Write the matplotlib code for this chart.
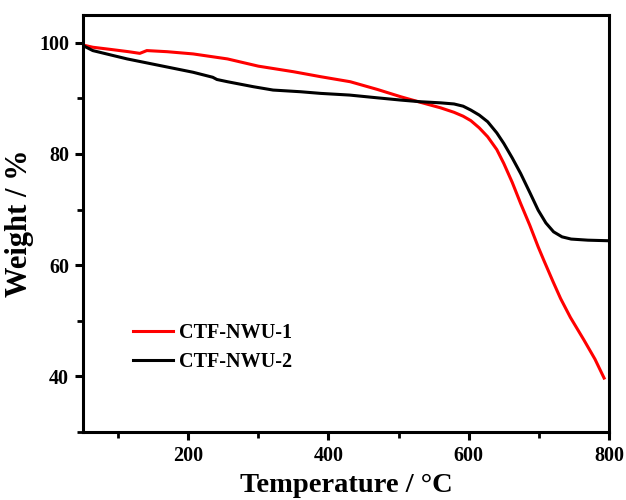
import matplotlib
matplotlib.use("Agg")
import matplotlib.pyplot as plt
from matplotlib.ticker import MultipleLocator

plt.rcParams['font.family'] = ['Liberation Serif', 'DejaVu Serif']
plt.rcParams['font.weight'] = 'bold'

temp1 = [50, 64, 90, 115, 131, 141, 170, 207, 256, 300, 350, 389, 431, 470,
         503, 531, 560, 579, 592, 603, 615, 627, 640, 650, 662, 674, 687, 699,
         707, 720, 731, 745, 764, 780, 793]
w1 = [99.6, 99.2, 98.8, 98.4, 98.1, 98.6, 98.4, 98.0, 97.1, 95.8, 94.8, 93.9,
      93.0, 91.6, 90.3, 89.3, 88.3, 87.5, 86.8, 86.0, 84.7, 83.1, 80.8, 78.3,
      74.9, 71.1, 67.2, 63.3, 60.9, 57.1, 54.0, 50.6, 46.6, 43.1, 39.7]

temp2 = [50, 64, 90, 113, 160, 207, 235, 241, 256, 293, 321, 360, 389, 430,
         470, 503, 531, 560, 579, 592, 603, 615, 627, 640, 650, 662, 674, 687,
         699, 710, 721, 733, 746, 770, 799]
w2 = [99.5, 98.6, 97.8, 97.1, 95.9, 94.7, 93.8, 93.4, 93.0, 92.1, 91.5, 91.2,
      90.9, 90.6, 90.1, 89.7, 89.4, 89.2, 89.0, 88.6, 87.9, 87.0, 85.8, 83.8,
      81.9, 79.3, 76.5, 73.1, 69.9, 67.6, 66.0, 65.1, 64.7, 64.5, 64.4]

labels = ['CTF-NWU-1', 'CTF-NWU-2']
colors = ['#ff0000', '#000000']

fig = plt.figure(figsize=(6.26, 5.0), dpi=100)
ax = fig.add_axes([83/626, 68/500, (609-83)/626, (432-15)/500])

ax.plot(temp1, w1, color=colors[0], lw=2.2, label=labels[0])
ax.plot(temp2, w2, color=colors[1], lw=2.2, label=labels[1])

ax.set_xlim(50, 800)
ax.set_ylim(30, 105)
ax.xaxis.set_major_locator(MultipleLocator(200))
ax.xaxis.set_minor_locator(MultipleLocator(100))
ax.yaxis.set_minor_locator(MultipleLocator(10))
ax.set_yticks([40, 60, 80, 100])

for s in ax.spines.values():
    s.set_linewidth(2.2)
ax.tick_params(which='major', direction='out', length=6, width=2.2, labelsize=14.5, pad=4)
ax.tick_params(which='minor', direction='out', length=4, width=2.0)

ax.set_xlabel('Temperature / °C', fontsize=20.5, fontweight='bold', labelpad=5)
ax.set_ylabel('Weight / %', fontsize=22, fontweight='bold', labelpad=4)

leg = ax.legend(loc='center left', bbox_to_anchor=(0.095, 0.203), frameon=False,
                fontsize=14.5, handlelength=2.0, handletextpad=0.3, borderpad=0,
                borderaxespad=0, labelspacing=0.45)

fig.savefig('out.png', dpi=100)
